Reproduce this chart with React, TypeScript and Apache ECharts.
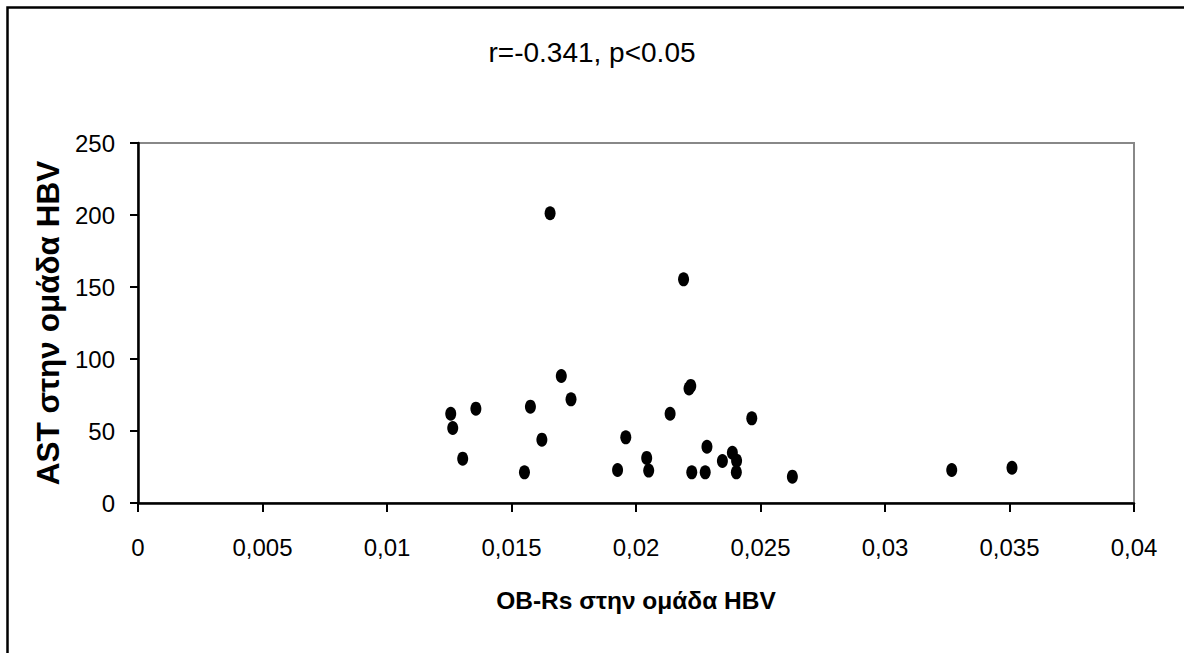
import React, { useEffect, useRef } from "react";
import * as echarts from "echarts";

const titleText = "r=-0.341, p<0.05";
const xAxisTitle = "OB-Rs στην ομάδα HBV";
const yAxisTitle = "AST στην ομάδα HBV";

// OB-Rs values (x)
const obRs = [
  0.01655, 0.02191, 0.0170, 0.01739, 0.0222, 0.02213, 0.01256, 0.01357,
  0.01576, 0.02137, 0.02465, 0.01264, 0.01622, 0.01959, 0.01304, 0.02285,
  0.02043, 0.02387, 0.02404, 0.02347, 0.01552, 0.01926, 0.02051, 0.02224,
  0.02278, 0.02403, 0.02628, 0.03268, 0.0351,
];
// AST values (y)
const ast = [
  201.2, 155.3, 88.2, 72.0, 81.3, 79.6, 62.0, 65.5,
  66.9, 62.0, 58.8, 52.1, 44.0, 45.6, 30.8, 39.1,
  31.3, 34.9, 29.4, 29.2, 21.3, 22.9, 22.5, 21.3,
  21.3, 21.3, 18.3, 22.9, 24.5,
];

const fmtComma = (v: number) => String(Number(v.toFixed(4))).replace(".", ",");

export default function App() {
  const ref = useRef<HTMLDivElement>(null);
  useEffect(() => {
    if (!ref.current) return;
    const chart = echarts.init(ref.current, undefined, { renderer: "svg" });
    const font = "'Liberation Sans', Arial, sans-serif";
    chart.setOption({
      animation: false,
      backgroundColor: "#fff",
      title: {
        text: titleText,
        left: "center",
        top: 33,
        textStyle: {
          fontFamily: font,
          fontSize: 28,
          fontWeight: "normal",
          color: "#000",
        },
      },
      graphic: [
        {
          type: "rect",
          shape: { x: 7.5, y: 7.5, width: 1200, height: 700 },
          style: { fill: "none", stroke: "#000", lineWidth: 2.5 },
          silent: true,
        },
      ],
      grid: {
        left: 138,
        top: 143,
        right: 50,
        bottom: 150,
        show: true,
        borderColor: "#888",
        borderWidth: 2,
        backgroundColor: "transparent",
      },
      xAxis: {
        type: "value",
        min: 0,
        max: 0.04,
        interval: 0.005,
        name: xAxisTitle,
        nameLocation: "middle",
        nameGap: 85,
        nameTextStyle: {
          fontFamily: font,
          fontSize: 24.5,
          fontWeight: "bold",
          color: "#000",
        },
        splitLine: { show: false },
        axisLine: { show: true, onZero: false, lineStyle: { color: "#000", width: 2.5 } },
        axisTick: { show: true, inside: false, length: 9, lineStyle: { color: "#000", width: 2 } },
        axisLabel: {
          formatter: fmtComma,
          margin: 32,
          fontFamily: font,
          fontSize: 24,
          color: "#000",
        },
      },
      yAxis: {
        type: "value",
        min: 0,
        max: 250,
        interval: 50,
        name: yAxisTitle,
        nameLocation: "middle",
        nameGap: 61,
        nameTextStyle: {
          fontFamily: font,
          fontSize: 31.5,
          fontWeight: "bold",
          color: "#000",
        },
        splitLine: { show: false },
        axisLine: { show: true, onZero: false, lineStyle: { color: "#000", width: 2.5 } },
        axisTick: { show: true, inside: false, length: 8, lineStyle: { color: "#000", width: 2 } },
        axisLabel: {
          margin: 23,
          fontFamily: font,
          fontSize: 24,
          color: "#000",
        },
      },
      series: [
        {
          type: "scatter",
          data: obRs.map((x, i) => [x, ast[i]]),
          symbol: "circle",
          symbolSize: [11, 14],
          itemStyle: { color: "#000", opacity: 1 },
        },
      ],
    });
    return () => chart.dispose();
  }, []);
  return (
    <div
      ref={ref}
      style={{ position: "absolute", left: 0, top: 0, width: 1184, height: 653 }}
    />
  );
}
